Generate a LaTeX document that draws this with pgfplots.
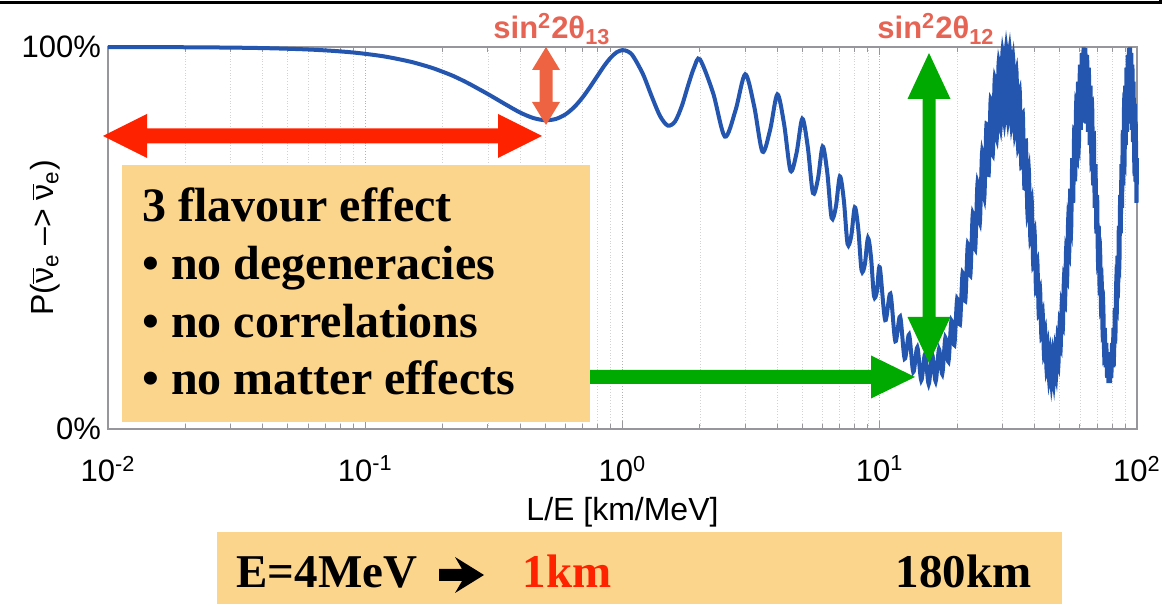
\documentclass[border=0pt]{standalone}
\usepackage{fontspec}
\setmainfont{Liberation Sans}
\newfontfamily\tnr{Liberation Serif}
\usepackage{pgfplots}
\pgfplotsset{compat=1.18}
\definecolor{curveblue}{RGB}{36,86,176}
\definecolor{boxorange}{RGB}{252,213,140}
\definecolor{arrred}{RGB}{255,34,0}
\definecolor{arrsalmon}{RGB}{238,100,66}
\definecolor{txtsalmon}{RGB}{230,100,84}
\definecolor{arrgreen}{RGB}{0,170,0}
\definecolor{axgray}{RGB}{150,150,155}
\begin{document}
\begin{tikzpicture}[x=1pt,y=1pt]
\path[use as bounding box] (0,0) rectangle (581.5,302);
\draw[line width=1.5pt] (0,300.5) -- (580,300.5) -- (580,303);
\begin{axis}[
  at={(54pt,87.5pt)}, anchor=south west,
  scale only axis, width=514.5pt, height=191pt,
  xmode=log, xmin=0.01, xmax=100, ymin=0, ymax=1,
  clip=false,
  xtick={0.01,0.1,1,10,100},
  xticklabels={10\textsuperscript{-2},10\textsuperscript{-1},10\textsuperscript{0},10\textsuperscript{1},10\textsuperscript{2}},
  minor xtick={0.02,0.03,0.04,0.05,0.06,0.07,0.08,0.09,0.2,0.3,0.4,0.5,0.6,0.7,0.8,0.9,2,3,4,5,6,7,8,9,20,30,40,50,60,70,80,90},
  ytick={0,1}, yticklabels={0\%,100\%},
  tick align=inside,
  major tick length=4pt, minor tick length=2.5pt,
  every tick/.style={axgray, line width=0.5pt},
  axis line style={axgray, line width=0.6pt},
  xmajorgrids=true, xminorgrids=true,
  major grid style={densely dotted, gray!60, line width=0.4pt},
  minor grid style={densely dotted, gray!35, line width=0.4pt},
  tick label style={font=\fontsize{15.5}{18}\selectfont},
  xticklabel style={yshift=-10pt},
  xlabel={L/E [km/MeV]},
  xlabel style={font=\fontsize{16}{19}\selectfont, at={(axis description cs:0.5,0)}, anchor=base, yshift=-46pt},
  ylabel={P($\overline{\mbox{ν}}$\textsubscript{e} –> $\overline{\mbox{ν}}$\textsubscript{e})},
  ylabel style={font=\fontsize{16}{19}\selectfont, at={(axis description cs:-0.0612,0.5)}, anchor=center},
]
\addplot[curveblue, line width=2pt, smooth] coordinates {
(0.01,0.9998)(0.015,0.9996)(0.02,0.9993)(0.03,0.9984)(0.04,0.9971)(0.05,0.9954)(0.06,0.9935)(0.07,0.9911)(0.08,0.9885)(0.09,0.9855)
(0.1,0.9821)(0.12,0.9747)(0.15,0.9614)(0.18,0.9463)(0.2,0.9351)(0.22,0.9240)(0.25,0.9059)(0.3,0.8766)(0.35,0.8503)(0.4,0.8284)
(0.45,0.8141)(0.5,0.8083)(0.55,0.8115)(0.6,0.8235)(0.65,0.8431)(0.7,0.8682)(0.75,0.8964)(0.8,0.9249)(0.85,0.9511)(0.9,0.9722)
(0.95,0.9863)(1.0,0.9918)(1.05,0.9883)(1.1,0.9758)(1.2,0.9296)(1.3,0.8702)(1.4,0.8191)(1.5,0.7943)(1.6,0.8048)(1.7,0.8452)
(1.8,0.8998)(1.9,0.9468)
(2,0.9677)(2.25,0.8796)(2.5,0.7655)(2.75,0.8340)(3,0.9286)(3.25,0.8449)(3.5,0.7261)(3.75,0.7835)
(4,0.8760)(4.25,0.7973)(4.5,0.6761)(4.75,0.7228)(5,0.8122)(5.25,0.7390)(5.5,0.6175)(5.75,0.6544)
(6,0.7396)(6.25,0.6722)(6.5,0.5527)(6.75,0.5808)(7,0.6612)(7.25,0.5998)(7.5,0.4843)(7.75,0.5053)
(8,0.5802)(8.25,0.5244)(8.5,0.4151)(8.75,0.4307)(9,0.4999)(9.25,0.4493)(9.5,0.3478)(9.75,0.3602)
(10,0.4235)(10.5,0.2851)(11,0.3541)(11.5,0.2297)(12,0.2945)(12.5,0.1838)(13,0.2471)(13.5,0.1491)(14,0.2138)(14.5,0.1272)
(15,0.1959)(15.5,0.1171)(16,0.1943)(16.5,0.1244)(17,0.2089)(17.5,0.1437)(18,0.2392)(18.5,0.1759)(19,0.2840)(19.5,0.2197)
(20,0.3413)(20.5,0.2734)(21,0.4090)(21.5,0.3348)(22,0.4842)(22.5,0.4013)(23,0.5640)(23.5,0.4704)(24,0.6451)(24.5,0.5393)
(25,0.7243)(25.5,0.6050)(26,0.7983)(26.5,0.6650)(27,0.8640)(27.5,0.7169)(28,0.9191)(28.5,0.7585)(29,0.9610)(29.5,0.7882)
(30,0.9883)(30.5,0.8048)(31,0.9997)(31.5,0.8094)(32,0.9948)(32.5,0.7965)(33,0.9738)(33.5,0.7719)(34,0.9375)(34.5,0.7349)
(35,0.8875)(35.5,0.6869)(36,0.8257)(36.5,0.6298)(37,0.7547)(37.5,0.5661)(38,0.6772)(38.5,0.4982)(39,0.5965)(39.5,0.4288)
(40,0.5158)(40.5,0.3609)(41,0.4383)(41.5,0.2972)(42,0.3673)(42.5,0.2401)(43,0.3055)(43.5,0.1921)(44,0.2555)(44.5,0.1551)
(45,0.2192)(45.5,0.1305)(46,0.1982)(46.5,0.1194)(47,0.1933)(47.5,0.1222)(48,0.2047)(48.5,0.1388)(49,0.2320)(49.5,0.1685)
(50,0.2739)(50.5,0.2101)(51,0.3289)(51.5,0.2620)(52,0.3948)(52.5,0.3220)(53,0.4686)(53.5,0.3877)(54,0.5479)(54.5,0.4566)
(55,0.6290)(55.5,0.5257)(56,0.7088)(56.5,0.5922)(57,0.7840)(57.5,0.6536)(58,0.8517)(58.5,0.7073)(59,0.9091)(59.5,0.7511)
(60,0.9538)(60.5,0.7833)(61,0.9841)(61.5,0.8026)(62,0.9987)(62.5,0.8099)(63,0.9971)(63.5,0.7998)(64,0.9792)(64.5,0.7779)
(65,0.9459)(65.5,0.7432)(66,0.8985)(66.5,0.6973)(67,0.8389)(67.5,0.6418)(68,0.7695)(68.5,0.5792)(69,0.6931)(69.5,0.5120)
(70,0.6127)(70.5,0.4427)(71,0.5318)(71.5,0.3743)(72,0.4534)(72.5,0.3095)(73,0.3809)(73.5,0.2509)(74,0.3170)(74.5,0.2009)
(75,0.2644)(75.5,0.1615)(76,0.2253)(76.5,0.1344)(77,0.2012)(77.5,0.1205)(78,0.1930)(78.5,0.1205)(79,0.2012)(79.5,0.1344)
(80,0.2253)(80.5,0.1615)(81,0.2644)(81.5,0.2009)(82,0.3170)(82.5,0.2509)(83,0.3809)(83.5,0.3095)(84,0.4534)(84.5,0.3743)
(85,0.5318)(85.5,0.4427)(86,0.6127)(86.5,0.5120)(87,0.6931)(87.5,0.5792)(88,0.7695)(88.5,0.6418)(89,0.8389)(89.5,0.6973)
(90,0.8985)(90.5,0.7432)(91,0.9459)(91.5,0.7779)(92,0.9792)(92.5,0.7998)(93,0.9971)(93.5,0.8099)(94,0.9987)(94.5,0.8026)
(95,0.9841)(95.5,0.7833)(96,0.9538)(96.5,0.7511)(97,0.9091)(97.5,0.7073)(98,0.8517)(98.5,0.6536)(99,0.7840)(99.5,0.5922)
(100,0.7088)
};
\end{axis}
% annotation texts
\node[anchor=base west, inner sep=0, text=txtsalmon] at (246.5,282.5) {\bfseries\fontsize{15.5}{18}\selectfont sin\textsuperscript{2}2θ\textsubscript{13}};
\node[anchor=base west, inner sep=0, text=txtsalmon] at (438.5,282.5) {\bfseries\fontsize{15.5}{18}\selectfont sin\textsuperscript{2}2θ\textsubscript{12}};
% red double arrow
\fill[arrred] (51.5,234) -- (73.5,245) -- (73.5,237.75) -- (249,237.75) -- (249,245) -- (271,234) -- (249,223) -- (249,230.25) -- (73.5,230.25) -- (73.5,223) -- cycle;
% salmon vertical double arrow
\fill[arrsalmon] (273,278.5) -- (280,267) -- (276.25,267) -- (276.25,251) -- (280,251) -- (273,239.5) -- (266,251) -- (269.75,251) -- (269.75,267) -- (266,267) -- cycle;
% green vertical double arrow
\fill[arrgreen] (464.5,275.5) -- (475.25,252.5) -- (467.75,252.5) -- (467.75,143.5) -- (475.25,143.5) -- (464.5,120.5) -- (453.75,143.5) -- (461.25,143.5) -- (461.25,252.5) -- (453.75,252.5) -- cycle;
% green horizontal arrow
\fill[arrgreen] (290,117) -- (435.5,117) -- (435.5,124.25) -- (457.5,113.5) -- (435.5,102.75) -- (435.5,110) -- (290,110) -- cycle;
% orange box
\fill[boxorange] (61,91) rectangle (295,219.5);
\begin{scope}[every node/.style={anchor=base west, inner sep=0, font=\tnr\bfseries\fontsize{24}{28}\selectfont}]
\node at (71,191) {3 flavour effect};
\node at (71,162) {• no degeneracies};
\node at (71,133) {• no correlations};
\node at (71,104.5) {• no matter effects};
\end{scope}
% bottom box
\fill[boxorange] (108.5,0) rectangle (531,36);
\fill[black] (219.5,11.5) -- (231,11.5) -- (227.5,5.5) -- (242,14.5) -- (227.5,23.5) -- (231,17.5) -- (219.5,17.5) -- cycle;
\begin{scope}[every node/.style={inner sep=0, font=\tnr\bfseries\fontsize{23.5}{28}\selectfont}]
\node[anchor=base west] at (118,8) {E=4MeV};
\node[anchor=base east, text=arrred] at (306,8) {1km};
\node[anchor=base east] at (516,8) {180km};
\end{scope}
\end{tikzpicture}
\end{document}
